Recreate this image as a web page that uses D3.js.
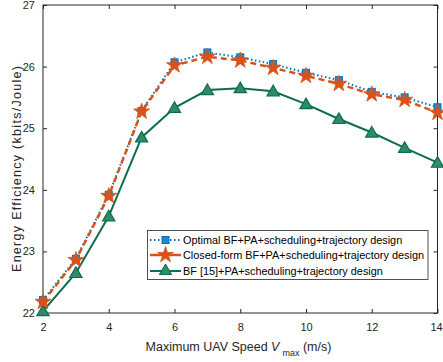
<!DOCTYPE html>
<html><head><meta charset="utf-8">
<script src="https://cdn.jsdelivr.net/npm/d3@7"></script>
<style>body{margin:0;background:#fff}svg{display:block;font-family:"Liberation Sans",Arial,sans-serif}</style>
</head><body><svg id="c" width="443" height="362"></svg>
<script>
const speeds = [2,3,4,5,6,7,8,9,10,11,12,13,14];
const optimal = [22.21,22.88,23.92,25.28,26.07,26.23,26.15,26.04,25.90,25.78,25.59,25.50,25.34];
const closedForm = [22.18,22.86,23.90,25.27,26.02,26.16,26.10,25.98,25.85,25.72,25.55,25.46,25.25];
const bf15 = [22.03,22.65,23.57,24.85,25.33,25.62,25.65,25.60,25.39,25.15,24.93,24.68,24.44];
const xTicks = [2,4,6,8,10,12,14];
const yTicks = [22,23,24,25,26,27];
const seriesNames = ["Optimal BF+PA+scheduling+trajectory design","Closed-form BF+PA+scheduling+trajectory design","BF [15]+PA+scheduling+trajectory design"];

const svg = d3.select("#c");
const L=43,R=437.5,T=5,B=313;
const x = d3.scaleLinear().domain([2,14]).range([L,R]);
const y = d3.scaleLinear().domain([22,27]).range([B,T]);
const tc="#262626";

const g = svg.append("g");
const ax = (gen, tr) => { const a=g.append("g").attr("transform",tr).call(gen); a.select(".domain").remove(); a.selectAll("line").attr("stroke",tc); a.selectAll("text").attr("fill",tc).attr("font-size",11).attr("font-family","Liberation Sans, Arial, sans-serif"); return a; };
const xb = ax(d3.axisBottom(x).tickValues(xTicks).tickSize(-4).tickPadding(10).tickFormat(d3.format("d")), `translate(0,${B})`);
xb.selectAll("text").filter(d=>d===14).attr("dx",-1.5);
ax(d3.axisTop(x).tickValues(xTicks).tickSize(-4).tickFormat(""), `translate(0,${T})`);
ax(d3.axisLeft(y).tickValues(yTicks).tickSize(-4).tickPadding(8).tickFormat(d3.format("d")), `translate(${L},0)`);
ax(d3.axisRight(y).tickValues(yTicks).tickSize(-4).tickFormat(""), `translate(${R},0)`);
g.append("rect").attr("x",L).attr("y",T).attr("width",R-L).attr("height",B-T).attr("fill","none").attr("stroke",tc).attr("stroke-width",1);

const blue="#0072BD", orange="#D95319", green="#0B6E4F";
const line = d3.line().x((d,i)=>x(speeds[i])).y(d=>y(d));
const star = d3.symbol().type(d3.symbolStar).size(80);
const tri = d3.symbol().type(d3.symbolTriangle).size(65);

svg.append("path").datum(bf15).attr("d",line).attr("fill","none").attr("stroke",green).attr("stroke-width",2);
svg.selectAll(".tri").data(bf15).enter().append("path").attr("d",tri).attr("transform",(d,i)=>`translate(${x(speeds[i])},${y(d)+1})`).attr("fill","#2f8a68").attr("stroke",green).attr("stroke-width",1.2);
svg.append("path").datum(optimal).attr("d",line).attr("fill","none").attr("stroke",blue).attr("stroke-width",2).attr("stroke-dasharray","1.5,2.5");
svg.selectAll(".sq").data(optimal).enter().append("rect").attr("x",(d,i)=>x(speeds[i])-3.5).attr("y",d=>y(d)-3.5).attr("width",7).attr("height",7).attr("fill","#2a86c8").attr("stroke",blue);
svg.append("path").datum(closedForm).attr("d",line).attr("fill","none").attr("stroke",orange).attr("stroke-width",2.5).attr("stroke-dasharray","6,4");
svg.selectAll(".st").data(closedForm).enter().append("path").attr("d",star).attr("transform",(d,i)=>`translate(${x(speeds[i])},${y(d)})`).attr("fill",orange).attr("stroke",orange).attr("stroke-width",0.8);

const lg = svg.append("g");
lg.append("rect").attr("x",147.5).attr("y",230.5).attr("width",280.5).attr("height",49).attr("fill","#fff").attr("stroke",tc).attr("stroke-width",0.8);
const rows=[240,255,271];
const styles=[{c:blue,w:2,da:"1.5,2.5"},{c:orange,w:2.5,da:null},{c:green,w:2,da:null}];
rows.forEach((ry,i)=>{
  lg.append("line").attr("x1",150).attr("x2",181).attr("y1",ry).attr("y2",ry).attr("stroke",styles[i].c).attr("stroke-width",styles[i].w).attr("stroke-dasharray",styles[i].da);
  if(i===0) lg.append("rect").attr("x",162).attr("y",ry-3.5).attr("width",7).attr("height",7).attr("fill","#2a86c8").attr("stroke",blue);
  if(i===1) lg.append("path").attr("d",star).attr("transform",`translate(165.5,${ry})`).attr("fill",orange).attr("stroke",orange).attr("stroke-width",0.8);
  if(i===2) lg.append("path").attr("d",tri).attr("transform",`translate(165.5,${ry})`).attr("fill","#2f8a68").attr("stroke",green);
  lg.append("text").attr("x",183).attr("y",ry+3.8).attr("font-size",10.9).attr("fill","#000").text(seriesNames[i]);
});

svg.append("text").attr("transform","translate(21,169) rotate(-90)").attr("text-anchor","middle").attr("font-size",12.5).attr("fill",tc)
  .attr("textLength",206).attr("lengthAdjust","spacing").text("Energy Efficiency (kbits/Joule)");
const xl = svg.append("text").attr("x",238.5).attr("y",350.5).attr("text-anchor","middle").attr("font-size",12.5).attr("fill",tc);
xl.append("tspan").text("Maximum UAV Speed ");
xl.append("tspan").attr("font-style","italic").text("V");
xl.append("tspan").attr("font-size",9).attr("dx",3).attr("dy",5.5).text("max");
xl.append("tspan").attr("dy",-5.5).text(" (m/s)");
</script></body></html>
